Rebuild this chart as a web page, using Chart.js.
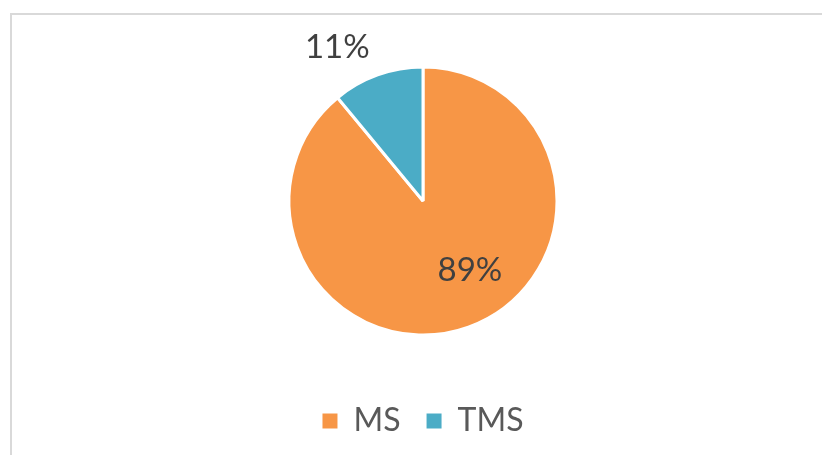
<!DOCTYPE html>
<html>
<head>
<meta charset="utf-8">
<script src="https://cdn.jsdelivr.net/npm/chart.js@4.4.1/dist/chart.umd.min.js"></script>
<style>
  html, body { margin: 0; padding: 0; background: #fff; }
  #wrap { position: relative; width: 822px; height: 455px; overflow: hidden; }
  #frame { position: absolute; left: 10px; top: 13px; width: 830px; height: 460px;
           border-top: 2px solid #d9d9d9; border-left: 2px solid #d9d9d9; box-sizing: border-box; }
  #pie { position: absolute; left: 0; top: 0; }
</style>
</head>
<body>
<div id="wrap">
  <div id="frame"></div>
  <canvas id="pie" width="822" height="455"></canvas>
</div>
<script>
// dados
const categorias = ['MS', 'TMS'];
const valores = [89, 11];
const cores = ['#F79646', '#4BACC6'];
const rotulos = ['89%', '11%'];
// posição do rótulo em relação ao centro (fração do raio)
const posRotulo = [[0.35, 0.52], [-0.64, -1.15]];

const fonte = 'Lato, "Open Sans", "DejaVu Sans", sans-serif';

// desenha os rótulos de percentagem
const rotulosPlugin = {
  id: 'rotulos',
  afterDatasetsDraw(chart) {
    const ctx = chart.ctx;
    const arcs = chart.getDatasetMeta(0).data;
    ctx.save();
    ctx.font = '33px ' + fonte;
    ctx.fillStyle = '#404040';
    ctx.textAlign = 'center';
    ctx.textBaseline = 'middle';
    arcs.forEach((arc, i) => {
      const r = arc.outerRadius;
      ctx.fillText(rotulos[i], arc.x + posRotulo[i][0] * r, arc.y + posRotulo[i][1] * r);
    });
    ctx.restore();
  }
};

const ctx = document.getElementById('pie').getContext('2d');
const grafico = new Chart(ctx, {
  type: 'pie',
  data: {
    labels: categorias,
    datasets: [{
      data: valores,
      backgroundColor: cores,
      borderColor: '#ffffff',
      borderWidth: 3,
      radius: 134
    }]
  },
  options: {
    responsive: false,
    animation: false,
    layout: { padding: { top: 23, bottom: 8, left: 24, right: 0 } },
    plugins: {
      tooltip: { enabled: false },
      legend: {
        position: 'bottom',
        labels: {
          boxWidth: 15,
          boxHeight: 15,
          padding: 26,
          color: '#595959',
          font: { size: 32, family: fonte },
          // quadrados sem contorno branco
          generateLabels: chart =>
            Chart.overrides.pie.plugins.legend.labels.generateLabels(chart)
              .map(l => Object.assign(l, { lineWidth: 0, text: l.text }))
        }
      }
    }
  },
  plugins: [rotulosPlugin]
});
</script>
</body>
</html>
